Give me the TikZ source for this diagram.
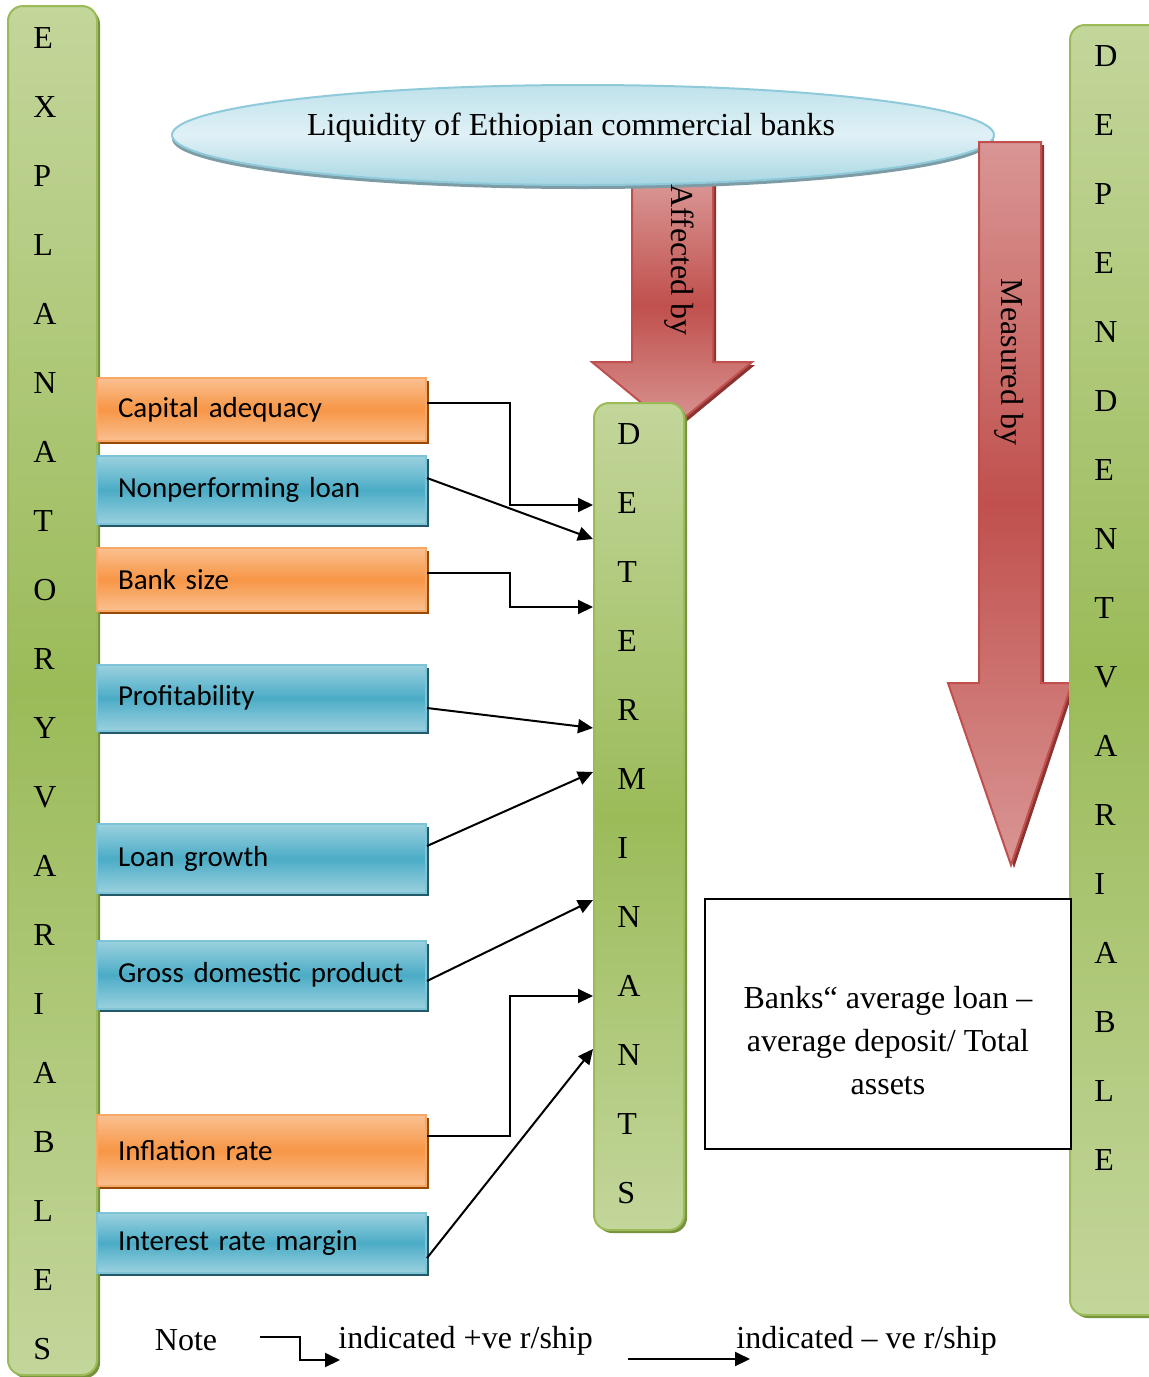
\documentclass[tikz,border=0pt]{standalone}
\usepackage{fontspec}
\setmainfont{Liberation Serif}
\newfontfamily\calib{Carlito}
\usetikzlibrary{arrows.meta,shapes.geometric,shadows,calc}
\definecolor{gLight}{HTML}{C3D69B}
\definecolor{gDark}{HTML}{9BBB59}
\definecolor{gBorder}{HTML}{9BBB59}
\definecolor{gShadow}{HTML}{76923C}
\definecolor{oLight}{HTML}{FAC090}
\definecolor{oMid}{HTML}{F79646}
\definecolor{oBorder}{HTML}{F8A865}
\definecolor{oShadow}{HTML}{984807}
\definecolor{bLight}{HTML}{9BD1DF}
\definecolor{bMid}{HTML}{4BACC6}
\definecolor{bBorder}{HTML}{7FC3D6}
\definecolor{bShadow}{HTML}{215968}
\definecolor{rLight}{HTML}{D99694}
\definecolor{rDark}{HTML}{C0504D}
\definecolor{rBorder}{HTML}{C0504D}
\definecolor{rShadow}{HTML}{8C3230}
\definecolor{eTop}{HTML}{BFE2EB}
\definecolor{eMid}{HTML}{E0F1F6}
\definecolor{eBot}{HTML}{A7D6E2}
\definecolor{eBorder}{HTML}{8FCADB}
\definecolor{eShadow}{HTML}{7E9CA5}
\begin{document}
\begin{tikzpicture}[x=0.5pt,y=-0.5pt,
  bar/.style={rounded corners=7.5pt, draw=gBorder, line width=1pt,
    top color=gLight, bottom color=gLight, middle color=gDark,
    drop shadow={shadow xshift=1.5pt,shadow yshift=-1.5pt,fill=gShadow,opacity=1},
    inner sep=0pt},
  letters/.style={font=\fontsize{16}{34.5}\selectfont, align=left, inner sep=0pt, anchor=west},
  factor/.style={anchor=north west, text width=143.5pt, inner xsep=10.5pt, inner ysep=0pt,
    align=left, font=\calib\fontsize{14.5}{17}\selectfont, line width=1pt},
  orangebox/.style={factor, draw=oBorder, top color=oLight, bottom color=oLight, middle color=oMid,
    drop shadow={shadow xshift=1.5pt,shadow yshift=-1.5pt,fill=oShadow,opacity=1}},
  bluebox/.style={factor, draw=bBorder, top color=bLight, bottom color=bLight, middle color=bMid,
    drop shadow={shadow xshift=1.5pt,shadow yshift=-1.5pt,fill=bShadow,opacity=1}},
  link/.style={line width=1pt, -{Triangle[length=7.5pt,width=7pt]}},
  bigarrow/.style={draw=rBorder, line width=1pt, top color=rLight, bottom color=rLight, middle color=rDark},
  serif16/.style={font=\fontsize{16}{19}\selectfont}
]
\useasboundingbox (0,0) rectangle (1149,1377);
\clip (0,0) rectangle (1149,1377);

% Affected by arrow
\fill[rShadow, shift={(3,3)}] (632,182) -- (713,182) -- (713,362) -- (752,362) -- (672,428) -- (592,362) -- (632,362) -- cycle;
\shadedraw[bigarrow] (632,182) -- (713,182) -- (713,362) -- (752,362) -- (672,428) -- (592,362) -- (632,362) -- cycle;

% Ellipse
\node[ellipse, minimum width=411pt, minimum height=50pt, draw=eBorder, line width=1pt,
  top color=eTop, bottom color=eBot, middle color=eMid,
  drop shadow={shadow xshift=0pt,shadow yshift=-2pt,fill=eShadow,opacity=1},
  serif16, inner sep=0pt] (liq) at (583,135) {};
\node[serif16, inner sep=0pt] (liqtext) at (571,128) {Liquidity of Ethiopian commercial banks};

% Measured by arrow
\fill[rShadow, shift={(3,3)}] (979,142) -- (1041,142) -- (1041,683) -- (1072,683) -- (1011,865) -- (948,683) -- (979,683) -- cycle;
\shadedraw[bigarrow] (979,142) -- (1041,142) -- (1041,683) -- (1072,683) -- (1011,865) -- (948,683) -- (979,683) -- cycle;

\node[serif16, rotate=-90, inner sep=0pt] (aff) at (679,260) {Affected by};
\node[serif16, rotate=-90, inner sep=0pt] (mea) at (1009,362) {Measured by};

% Bars
\node[bar, minimum width=44.5pt, minimum height=684.5pt] (expl) at (52.5,690.5) {};
\node[bar, minimum width=47.5pt, minimum height=645pt] (dep) at (1117.5,670) {};
\node[bar, minimum width=45pt, minimum height=413.5pt] (det) at (639,816.5) {};

\node[letters] (expltext) at (33,694) {E\\X\\P\\L\\A\\N\\A\\T\\O\\R\\Y\\V\\A\\R\\I\\A\\B\\L\\E\\S};
\node[letters] (dettext) at (617,814) {D\\E\\T\\E\\R\\M\\I\\N\\A\\N\\T\\S};
\node[letters] (deptext) at (1094,608.5) {D\\E\\P\\E\\N\\D\\E\\N\\T\\V\\A\\R\\I\\A\\B\\L\\E};

% Factor boxes
\node[orangebox, minimum height=31.5pt] (cap) at (96,377) {Capital adequacy};
\node[bluebox, minimum height=34pt] (npl) at (96,455) {Nonperforming loan};
\node[orangebox, minimum height=31.5pt] (bank) at (96,547) {Bank size};
\node[bluebox, minimum height=33pt] (prof) at (96,664) {Profitability};
\node[bluebox, minimum height=34.5pt] (loan) at (96,823) {Loan growth};
\node[bluebox, minimum height=34pt] (gdp) at (96,940) {Gross domestic product};
\node[orangebox, minimum height=35.5pt] (infl) at (96,1114) {Inflation rate};
\node[bluebox, minimum height=30pt] (irm) at (96,1212) {Interest rate margin};

% Connectors
\draw[link] ($(cap.east)+(0,-6.5)$) -- ++(83,0) |- ($(det.north west)+(0,103)$);
\draw[link] ($(npl.east)+(0,-12)$) -- ($(det.north west)+(0,137)$);
\draw[link] ($(bank.east)+(0,-6.5)$) -- ++(83,0) |- ($(det.north west)+(0,205)$);
\draw[link] ($(prof.east)+(0,10)$) -- ($(det.north west)+(0,326)$);
\draw[link] ($(loan.east)+(0,-12.5)$) -- ($(det.north west)+(0,370)$);
\draw[link] ($(gdp.east)+(0,6)$) -- ($(det.north west)+(0,498)$);
\draw[link] ($(infl.east)+(0,-14.5)$) -- ++(83,0) |- ($(det.north west)+(0,594)$);
\draw[link] ($(irm.east)+(0,15)$) -- ($(det.north west)+(0,647)$);

% Measure box
\node[draw, line width=1pt, minimum width=183pt, minimum height=125pt, inner sep=0pt, fill=white] (meas) at (888,1024) {};
\node[align=center, inner sep=0pt, font=\fontsize{16}{21.5}\selectfont] (meastext) at (888,1041)
  {Banks“ average loan –\\average deposit/ Total\\assets};

% Legend
\node[serif16, inner sep=0pt] (note) at (186,1340) {Note};
\node[serif16, inner sep=0pt, anchor=west] (pos) at (338,1341) {indicated +ve r/ship};
\node[serif16, inner sep=0pt, anchor=west] (neg) at (736,1341) {indicated – ve r/ship};
\coordinate (pa) at (260,1337);
\coordinate (pb) at (340,1360);
\coordinate (na) at (628,1359);
\coordinate (nb) at (750,1359);
\draw[link] (pa) -- ++(40,0) |- (pb);
\draw[link] (na) -- (nb);
\end{tikzpicture}
\end{document}
